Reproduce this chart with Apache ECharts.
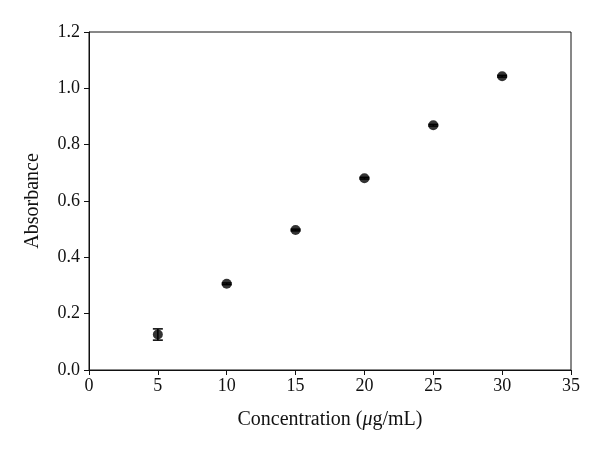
<!DOCTYPE html>
<html><head><meta charset="utf-8">
<script src="https://cdn.jsdelivr.net/npm/echarts@6/dist/echarts.min.js"></script>
<style>html,body{margin:0;padding:0;background:#fff}#c{width:600px;height:451px}</style>
</head><body><div id="c"></div>
<script>
const concentrations = [5, 10, 15, 20, 25, 30];
const absorbance = [0.126, 0.306, 0.497, 0.681, 0.869, 1.043];
const errors = [0.02, 0.003, 0.003, 0.003, 0.003, 0.003];
const xTicks = [0, 5, 10, 15, 20, 25, 30, 35];
const yTicks = [0, 0.2, 0.4, 0.6, 0.8, 1.0, 1.2];

const font = 'Liberation Serif';
const chart = echarts.init(document.getElementById('c'));
const pts = concentrations.map((x, i) => [x, absorbance[i]]);
const errData = concentrations.map((x, i) => [x, absorbance[i] - errors[i], absorbance[i] + errors[i]]);

chart.setOption({
  animation: false,
  grid: { left: 89, right: 29, top: 32, bottom: 81, show: true, borderColor: '#111', borderWidth: 1 },
  xAxis: {
    type: 'value', min: xTicks[0], max: xTicks[xTicks.length - 1], interval: 5,
    axisLine: { onZero: false, lineStyle: { color: '#111', width: 1 } },
    axisTick: { show: true, inside: false, length: 5, lineStyle: { color: '#111' } },
    axisLabel: { color: '#111', fontFamily: font, fontSize: 18, margin: 7 },
    splitLine: { show: false },
    name: 'Concentration ({i|μ}g/mL)', nameLocation: 'middle', nameGap: 40,
    nameTextStyle: { color: '#111', fontFamily: font, fontSize: 20,
      rich: { i: { fontStyle: 'italic', fontFamily: font, fontSize: 20, color: '#111' } } }
  },
  yAxis: {
    type: 'value', min: yTicks[0], max: yTicks[yTicks.length - 1], interval: 0.2,
    axisLine: { show: true, onZero: false, lineStyle: { color: '#111', width: 1 } },
    axisTick: { show: true, inside: false, length: 5, lineStyle: { color: '#111' } },
    axisLabel: { color: '#111', fontFamily: font, fontSize: 18, margin: 9, formatter: v => v.toFixed(1) },
    splitLine: { show: false },
    name: 'Absorbance', nameLocation: 'middle', nameGap: 46, nameRotate: 90,
    nameTextStyle: { color: '#111', fontFamily: font, fontSize: 20 }
  },
  series: [
    {
      type: 'custom',
      data: errData,
      z: 3,
      renderItem: function (params, api) {
        const x = api.value(0);
        const lo = api.coord([x, api.value(1)]);
        const hi = api.coord([x, api.value(2)]);
        const hw = 5;
        const style = { stroke: '#000', lineWidth: 1.5 };
        return {
          type: 'group',
          children: [
            { type: 'line', shape: { x1: lo[0], y1: lo[1], x2: hi[0], y2: hi[1] }, style },
            { type: 'line', shape: { x1: lo[0] - hw, y1: lo[1], x2: lo[0] + hw, y2: lo[1] }, style },
            { type: 'line', shape: { x1: hi[0] - hw, y1: hi[1], x2: hi[0] + hw, y2: hi[1] }, style }
          ]
        };
      }
    },
    {
      type: 'scatter',
      data: pts,
      symbol: 'circle',
      symbolSize: 10,
      itemStyle: { color: '#000' },
      z: 4
    }
  ]
});
</script></body></html>
